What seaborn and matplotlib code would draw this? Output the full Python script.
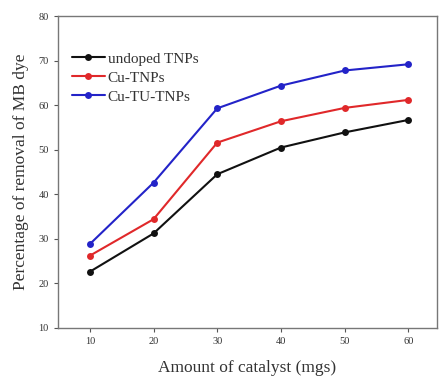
import pandas as pd
import seaborn as sns
import matplotlib.pyplot as plt

catalyst = [10, 20, 30, 40, 50, 60]
undoped = [22.6, 31.2, 44.5, 50.5, 53.9, 56.7]
cu = [26.2, 34.4, 51.6, 56.4, 59.4, 61.2]
cu_tu = [28.8, 42.6, 59.3, 64.4, 67.8, 69.2]
names = ['undoped TNPs', 'Cu-TNPs', 'Cu-TU-TNPs']

df = pd.DataFrame({
    'amount': catalyst * 3,
    'removal': undoped + cu + cu_tu,
    'sample': [n for n in names for _ in catalyst],
})

sns.set_theme(style='ticks')
plt.rcParams['font.family'] = ['Liberation Serif', 'DejaVu Serif']

fig = plt.figure(figsize=(4.42, 3.76), dpi=100)
ax = fig.add_axes([0.131, 0.128, 0.858, 0.829])

sns.lineplot(data=df, x='amount', y='removal', hue='sample',
             palette=['#111111', '#e0282a', '#2323c8'],
             marker='o', markersize=5, markeredgewidth=0,
             linewidth=1.5, ax=ax)

ax.set(xlim=(5, 64.5), ylim=(10, 80),
       xlabel='Amount of catalyst (mgs)',
       ylabel='Percentage of removal of MB dye')
ax.set_xticks(catalyst)
ax.set_yticks(range(10, 81, 10))
ax.tick_params(labelsize=7.5, length=3, width=0.8, colors='#555555', labelcolor='#333333')
ax.xaxis.label.set_size(12.5)
ax.yaxis.label.set_size(12.5)
ax.xaxis.labelpad = 10
ax.yaxis.labelpad = 7
ax.xaxis.label.set_color('#333333')
ax.yaxis.label.set_color('#333333')
for s in ax.spines.values():
    s.set_color('#777777')
    s.set_linewidth(1.0)

leg = ax.legend(loc='upper left', bbox_to_anchor=(0.02, 0.905), frameon=False,
                fontsize=11, handlelength=2.2, handletextpad=0.15,
                labelspacing=0.35, borderaxespad=0)
for t in leg.get_texts():
    t.set_color('#333333')

fig.savefig('out.png', dpi=100)
